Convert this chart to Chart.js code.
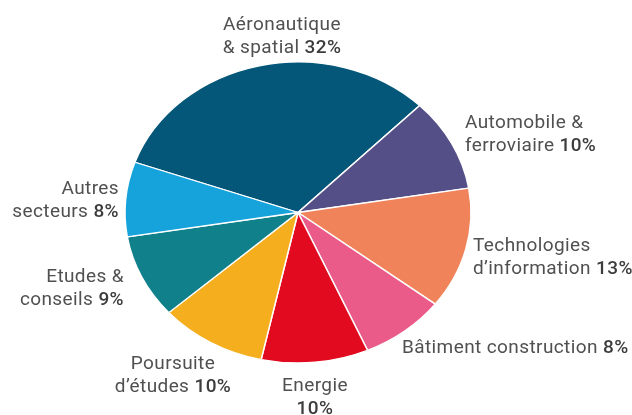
<!DOCTYPE html>
<html>
<head>
<meta charset="utf-8">
<script src="https://cdn.jsdelivr.net/npm/chart.js@4.4.1/dist/chart.umd.min.js"></script>
<style>
  html, body { margin: 0; padding: 0; background: #fff; }
  #wrap { width: 632px; height: 415px; }
</style>
</head>
<body>
<div id="wrap"><canvas id="secteurs" width="632" height="415"></canvas></div>
<script>
// data (clockwise from the top-left slice)
var secteurs = ["Aéronautique & spatial", "Automobile & ferroviaire", "Technologies d’information",
    "Bâtiment construction", "Energie", "Poursuite d’études", "Etudes & conseils", "Autres secteurs"];
var parts = [32, 10, 13, 8, 10, 10, 9, 8];
// how each label is broken into lines (percent goes after the last line)
var lignes = [
    ["Aéronautique", "& spatial"],
    ["Automobile &", "ferroviaire"],
    ["Technologies", "d’information"],
    ["Bâtiment construction"],
    ["Energie", ""],
    ["Poursuite", "d’études"],
    ["Etudes &", "conseils"],
    ["Autres", "secteurs"]
];
var couleurs = ["#05577a", "#554f87", "#f0835a", "#ea5b8a", "#e20a1f", "#f5ae1e", "#10808a", "#16a3dc"];

// label placement: [x, first baseline, align]
var placement = [
    [282, 30, "center"],
    [465, 128, "left"],
    [473, 251, "left"],
    [402, 353, "left"],
    [315, 391, "center"],
    [173, 369, "center"],
    [124, 282, "right"],
    [119, 194, "right"]
];

var FONT = "Roboto, 'DejaVu Sans', sans-serif";
var TAILLE = 19;
var ESPACE = "0.4px";
var INTERLIGNE = 22.5;
var ECRASE = 0.87; // the original pie is squashed vertically

var ellipse = {
    id: "ellipse",
    beforeDatasetsDraw: function (chart) {
        var arc = chart.getDatasetMeta(0).data[0];
        var ctx = chart.ctx;
        ctx.save();
        ctx.translate(arc.x, arc.y);
        ctx.scale(1, ECRASE);
        ctx.translate(-arc.x, -arc.y);
    },
    afterDatasetsDraw: function (chart) {
        chart.ctx.restore();
    }
};

var etiquettes = {
    id: "etiquettes",
    afterDraw: function (chart) {
        var ctx = chart.ctx;
        ctx.save();
        ctx.textBaseline = "alphabetic";
        ctx.textAlign = "left";
        ctx.letterSpacing = ESPACE;
        lignes.forEach(function (l, i) {
            var p = placement[i];
            var pct = parts[i] + "%";
            l.forEach(function (txt, j) {
                var gras = (j === l.length - 1) ? pct : "";
                var norm = txt;
                if (gras && norm) norm += " ";
                ctx.font = "400 " + TAILLE + "px " + FONT;
                var w1 = ctx.measureText(norm).width;
                ctx.font = "500 " + TAILLE + "px " + FONT;
                var w2 = ctx.measureText(gras).width;
                var w = w1 + w2;
                var x = p[0];
                if (p[2] === "center") x -= w / 2;
                else if (p[2] === "right") x -= w;
                var y = p[1] + j * INTERLIGNE;
                ctx.font = "400 " + TAILLE + "px " + FONT;
                ctx.fillStyle = "#505050";
                ctx.fillText(norm, x, y);
                ctx.font = "500 " + TAILLE + "px " + FONT;
                ctx.fillStyle = "#3c3c3c";
                ctx.fillText(gras, x + w1, y);
            });
        });
        ctx.restore();
    }
};

var ctx = document.getElementById("secteurs").getContext("2d");
var graphique = new Chart(ctx, {
    type: "pie",
    data: {
        labels: secteurs,
        datasets: [{
            data: parts,
            backgroundColor: couleurs,
            borderColor: "#ffffff",
            borderWidth: 1.5,
            radius: 173
        }]
    },
    options: {
        responsive: false,
        animation: false,
        rotation: -70.5,
        layout: { padding: { left: 0, right: 36, top: 10, bottom: 0 } },
        plugins: {
            legend: { display: false },
            tooltip: { enabled: false }
        }
    },
    plugins: [ellipse, etiquettes]
});
</script>
</body>
</html>
